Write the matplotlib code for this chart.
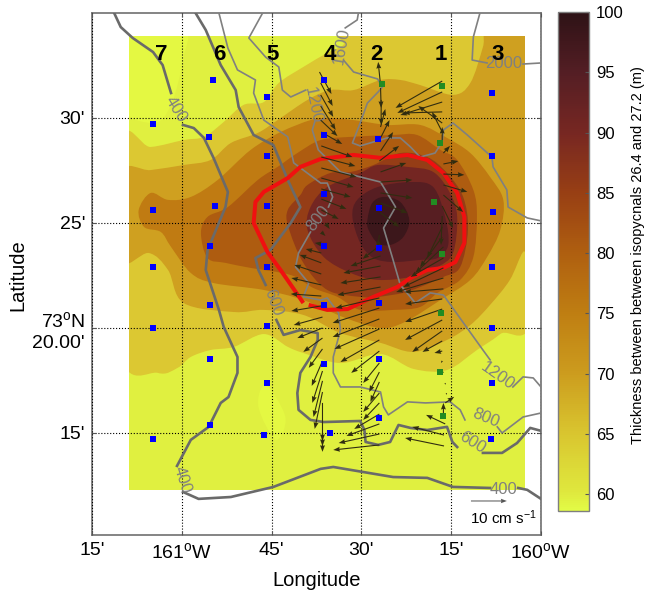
"""
Thickness between isopycnals over the canyon mooring array, with currents and isobaths.

Longitudes are minutes west of 160W, latitudes are minutes north of 73N.
"""

import numpy as np
import matplotlib
matplotlib.use("Agg")
import matplotlib.pyplot as plt
from matplotlib.colors import LinearSegmentedColormap, Normalize
from matplotlib.cm import ScalarMappable
from matplotlib.patches import PathPatch, Rectangle
from matplotlib.path import Path

plt.rcParams["font.family"] = ["Liberation Sans", "DejaVu Sans"]
plt.rcParams["mathtext.fontset"] = "custom"
plt.rcParams["mathtext.rm"] = "Liberation Sans"
plt.rcParams["mathtext.default"] = "rm"

# Colour scale
cbar_values = [58.6, 60, 65, 70, 75, 80, 85, 90, 95, 100]
cbar_colors = ["#e2fb46", "#dfe93e", "#d9c52f", "#cc9c1e", "#bf7e12", "#af5f10",
               "#983f14", "#772722", "#541e24", "#2e1216"]

# Extent of the mapped field
field_lon = [68.9, 2.7]
field_lat = [12.3, 33.9]
field_color = "#e0f040"

# Thickness bands, outermost first
lightest_a_lon = [70.2, 64.8, 61.8, 59.7, 59.8, 70.2]
lightest_a_lat = [30.62, 29.76, 30.62, 32.9, 34.19, 34.19]
lightest_b_lon = [46.0, 42.7, 44.3, 47.2]
lightest_b_lat = [17.29, 15.76, 14.67, 16.24]
band_65_lon = [70.2, 65.2, 59.7, 56.3, 53.2, 49.7, 46.3, 43.8, 39.7, 35.7, 33, 31.3, 1, 1, 6.8, 10.7, 15.7,
               21.3, 26.8, 33.5, 39.7, 42.3, 46.3, 51.3, 55.2, 58.5, 60.7, 64, 70.2]
band_65_lat = [28.71, 28.62, 28.95, 29.1, 29.76, 30.62, 30.76, 31.67, 32.43, 33.1, 33.48, 34.19, 34.19, 21.1,
               19.71, 18.95, 18, 18.05, 18.76, 18.33, 18.81, 19.1, 19.71, 19.1, 18.95, 18.62, 18.1, 17.86, 18.86]
band_70_lon = [70.2, 65.2, 59.7, 55.2, 51.8, 47.3, 44, 39, 35.2, 31.3, 26.8, 23.5, 20.2, 14.7, 11.8, 9.7, 8.8,
               1, 1, 3, 5.2, 8.5, 11.8, 15.7, 21.3, 26.8, 33.5, 39.7, 46.3, 51.3, 59.7, 62.3, 65.5, 70.2]
band_70_lat = [27.38, 27.52, 27.76, 28, 28.81, 29.29, 29.9, 30.86, 31.33, 31.33, 31.81, 31.81, 31.57, 31.1,
               31.67, 33.38, 34.43, 34.43, 23.95, 23.62, 22.29, 21.1, 20.14, 19.43, 18.86, 19.29, 19.76, 20.62,
               20.86, 20.76, 21.19, 22.76, 23.57, 23.24]
band_75_lon = [65.2, 62.3, 58.5, 54, 48.5, 43.5, 38.5, 35.7, 31.3, 25.7, 20.2, 15.7, 11.8, 8.5, 6.3, 6.8, 9,
               11.8, 16.8, 22.7, 26.8, 32.7, 39.7, 46.3, 54.7, 58.5, 61.8, 63.5, 66.3, 67.2]
band_75_lat = [26.43, 26.1, 26.24, 27.05, 28.48, 29.33, 29.9, 30, 29.9, 29.67, 29.67, 29.05, 28.33, 27.19, 26.1,
               24.67, 23.38, 22.29, 21.33, 20.29, 20, 20.48, 21.33, 21.81, 22.14, 22.62, 23.86, 24.57, 24.81, 25.62]
band_80_lon = [56.8, 55.7, 52.3, 47.3, 44, 40.7, 36.8, 31.8, 24.7, 20.7, 16.8, 14, 11.3, 10.7, 11.3, 13.5, 17.3,
               20.2, 24.7, 30.2, 34, 38, 41.8, 48.5, 52.7, 55.7]
band_80_lat = [24.52, 25.29, 25.76, 27.05, 27.67, 28.33, 28.95, 29.1, 29.19, 29.19, 28.48, 28, 26.57, 25.29,
               23.38, 22.29, 21.67, 21, 20.86, 20.86, 21.48, 21.9, 22.52, 22.86, 23.1, 23.33]
band_85_lon = [42.3, 40.2, 39, 35.2, 31.8, 28, 23.5, 19, 15.7, 13, 12.2, 13.5, 16.3, 20.2, 23, 27.3, 30.2, 35.7,
               39.7, 42.2]
band_85_lat = [25.62, 26.33, 26.81, 27.38, 27.43, 27.76, 28.33, 28.14, 27.38, 26.24, 24.67, 22.9, 22.43, 21.95,
               21.67, 21.48, 21.48, 21.81, 23.1, 24.81]
band_90_lon = [30.2, 27.3, 22.3, 18, 15.2, 14, 14.7, 17.3, 21.8, 27.3, 31.8, 36.3, 39, 38.5, 35.7]
band_90_lat = [27.38, 27.76, 27.67, 27.43, 26.43, 25.29, 23.57, 22.9, 22.43, 22.29, 22.62, 23.38, 24.67, 25.76,
               26.71]
band_95_lon = [31.5, 30.7, 27.3, 21.8, 18, 16, 15.5, 17.3, 20.2, 24.7, 28, 30.2]
band_95_lat = [25.29, 26.1, 26.71, 26.95, 26.71, 25.29, 23.95, 23.33, 23.24, 23.14, 23.33, 24.05]
core_lon = [29, 28.2, 26.3, 23.5, 22, 23, 25.2, 27.3, 28.8]
core_lat = [25.14, 25.95, 26.24, 26, 25.14, 24.33, 23.95, 24.05, 24.67]
spot_lon = [20.5, 19.7, 18.8, 19.7]
spot_lat = [25.52, 25.67, 25.52, 25.33]

# Isobaths, broken where their labels sit
iso_400_a_lon = [71.3, 70.2, 68.2, 64.8, 63.2, 61.8]
iso_400_a_lat = [35, 34.33, 33.81, 33.14, 32.52, 31.19]
iso_400_b_lon = [59.8, 58, 56.3, 54.7, 52.3, 52.7, 55.7, 56, 53.8, 53, 50.7, 50.7, 52.2, 53.5, 55.5, 58.5, 60.8]
iso_400_b_lat = [29.67, 29.52, 29.05, 28.1, 26.48, 25.76, 23.71, 22.76, 20.86, 20.05, 18.62, 17.86, 16.71, 16.43,
                 15.29, 14.67, 13.43]
iso_400_c_lon = [59.8, 57.2, 51.8, 44.7, 36.8, 34.7, 24.7, 19, 14.7, 8.5]
iso_400_c_lat = [12.19, 11.86, 11.95, 12.43, 13.29, 13.38, 12.9, 12.86, 12.43, 12.38]
iso_400_d_lon = [3.8, 2.3, 0]
iso_400_d_lat = [12.38, 12.29, 11.86]
iso_600_a_lon = [57.7, 56, 53.5, 51, 50.5, 48, 44.7, 42.3, 40.2, 41.8, 45.2, 47.7, 47.2, 46]
iso_600_a_lat = [35, 34.19, 32.52, 31.33, 30.52, 29.19, 28.71, 27.05, 25.76, 25, 23.71, 23.33, 22.76, 22.05]
iso_600_b_lon = [44.2, 43, 40.2, 37.3, 37.3, 38.5, 40.2, 40.7, 40.5, 38.5, 36.3, 30.2, 29.5, 29.3, 27.2, 25.2,
                 23.8, 21.8, 19, 15.7, 14.8, 14]
iso_600_b_lat = [20.38, 19.67, 19.9, 19.76, 19.43, 18.62, 17.86, 16.9, 16.1, 15.62, 15.52, 15.57, 15.14, 14.57,
                 14.43, 14.57, 15.38, 15.24, 15.14, 15.29, 14.57, 14.33]
iso_600_c_lon = [9.7, 6.5, 4, 1.8, 0]
iso_600_c_lat = [14.05, 14.05, 14.52, 15.24, 15.1]
iso_800_a_lon = [53.8, 52.3, 50.7, 47.7, 48, 46.3, 42.3, 41.3, 36.8, 35.7, 34.8, 35.5]
iso_800_a_lat = [35, 33.33, 32.29, 31.81, 31.19, 29.9, 29.1, 27.86, 26.9, 26.9, 26.24, 25.76]
iso_800_b_lon = [38.5, 40.5, 41, 38.8, 39.7, 36.8, 35.7, 33.8, 33.5, 34.7, 34.7, 33.5, 30.2, 26.8, 26.3, 25.5,
                 22.3, 19.3, 15.2, 13.5, 12.7]
iso_800_b_lat = [24.57, 23.57, 22.9, 22.14, 21.48, 21.33, 21.43, 20.71, 19.9, 18.62, 17.86, 17.19, 17.19, 16.95,
                 16.24, 15.86, 16.48, 16.43, 16.48, 16.1, 15.62]
iso_800_c_lon = [7.3, 6.5, 3, 0]
iso_800_c_lat = [15.29, 15, 15.76, 15.95]
iso_1200_a_lon = [46.5, 48.8, 46, 43.8, 43.2, 41.8, 39.3]
iso_1200_a_lat = [35, 33.81, 32.9, 32.43, 31.33, 31, 31.33]
iso_1200_b_lon = [37.7, 38.2, 37.2, 33.5, 26.8, 24.3, 26.3, 24.8, 23.5, 21, 18.5, 16.3, 9.7, 8.5]
iso_1200_b_lat = [29.9, 29.43, 28.48, 27.43, 26.95, 25.76, 24.76, 23.33, 22.05, 21.19, 21.67, 21.57, 18.95, 18.48]
iso_1200_c_lon = [4.7, 3, 1.3, 0]
iso_1200_c_lat = [17.19, 17.67, 17.62, 17.19]
iso_1600_a_lon = [30.5, 30.7, 32.7]
iso_1600_a_lat = [35, 34.67, 34.29]
iso_1600_b_lon = [33, 31.3, 27.3, 26.5, 27.2, 29, 30.2, 31.5, 30.2, 25.7, 23.5, 21.8, 20.2, 17.7, 16.5, 16.3,
                  14.7, 12.3, 8.2, 8, 5.7, 5.5, 2.3, 0]
iso_1600_b_lat = [32.76, 32.19, 31.86, 31.48, 31.24, 30.71, 29.76, 28.81, 28.67, 29.05, 29.05, 28.62, 28.14, 28.33,
                  28.86, 29.43, 29.76, 29.19, 28.14, 27.67, 26.57, 25.76, 25.24, 25.1]
iso_2000_a_lon = [10.2, 11.3, 11.5, 9]
iso_2000_a_lat = [35, 33.86, 32.76, 32.62]
iso_2000_b_lon = [3, 0]
iso_2000_b_lat = [32.57, 32.62]

iso_label_text = ["400", "400", "400", "600", "600", "800", "800", "1200", "1200", "1600", "2000"]
iso_label_lon = [61.0, 60.0, 6.3, 44.8, 11.5, 37.2, 9.3, 38.0, 7.2, 33.3, 6.2]
iso_label_lat = [30.4, 12.75, 12.3, 21.2, 14.55, 25.2, 15.7, 30.6, 17.7, 33.45, 32.6]
iso_label_angle = [-58, -72, 0, -70, -32, 52, -22, -78, -35, 80, 0]

# The 90 m outline, open where its ends almost meet
outline_lon = [38.8, 35.7, 32.3, 28, 24, 21.8, 19, 16.3, 14.3, 12.8, 12.8, 14, 16.3, 19, 22.3, 26.8, 31.3, 36.8,
               40.2, 42.3, 46.3, 47.7, 48, 45.7, 43.5, 39.7]
outline_lat = [21.1, 20.86, 20.9, 21.48, 21.95, 22.38, 22.76, 22.86, 23.14, 24.05, 25.29, 26.43, 27.38, 28, 28.24,
               28.1, 28.24, 28.05, 27.67, 27.14, 26.48, 26, 25, 23.62, 22.76, 21.19]

# Stations
blue_lon = [64.8, 64.8, 64.8, 64.8, 64.8, 54.8, 55.5, 54.5, 55.3, 55.3, 55.3, 55.3, 45.8, 45.8, 45.8, 45.8, 45.8,
            45.8, 46.2, 36.3, 36.3, 36.3, 36.3, 36.3, 36.3, 35.2, 27.3, 27, 27, 27, 27, 27, 8.2, 8.2, 8, 8.2, 8.2,
            8.2, 8.3]
blue_lat = [29.7, 25.6, 22.9, 20, 14.7, 31.8, 29.1, 25.8, 23.9, 21.1, 18.5, 15.4, 31, 28.2, 25.8, 22.9, 20.1, 17.4,
            14.9, 31.8, 29.2, 26.4, 23.9, 21.1, 18.3, 15, 29, 25.7, 23.8, 21.2, 18.5, 15.7, 31.2, 28.2, 25.5, 22.9,
            20, 17.4, 14.7]
green_lon = [26.5, 16.5, 16.8, 17.8, 16.5, 16.7, 16.8, 16.3]
green_lat = [31.6, 31.5, 28.8, 26, 23.5, 20.7, 17.9, 15.8]

line_names = ["7", "6", "5", "4", "2", "1", "3"]
line_lon = [63.5, 53.8, 44.8, 35.3, 27.5, 16.8, 7.2]
line_lat = 33.0

# Current vectors, tail and tip, one block per mooring line
line4_tail_lon = [37.0, 36.8, 36.8, 36.8, 36.8, 36.7, 36.7, 36.7, 36.7, 36.7, 36.7, 36.7, 36.7, 36.0, 36.7, 36.7,
                  36.7, 36.7, 36.7, 36.7, 36.7, 36.7, 36.5, 36.5, 36.5, 36.5, 36.5, 36.5, 36.5, 36.5, 36.5, 36.5, 36.5]
line4_tail_lat = [32.19, 31.67, 31.10, 30.57, 29.90, 29.33, 28.67, 28.14, 27.62, 27.14, 26.62, 26.14, 25.62, 25.0,
                  24.57, 24.0, 23.57, 23.1, 22.57, 22.05, 21.52, 21.05, 20.52, 20.0, 19.52, 19.0, 18.43, 17.95,
                  17.48, 16.95, 16.43, 15.0, 14.76]
line4_tip_lon = [35.0, 34.8, 34.7, 34.3, 34.0, 33.2, 31.5, 31.0, 30.8, 31.3, 31.8, 32.5, 33.8, 35.3, 36.0, 37.8,
                 39.3, 40.3, 41.2, 41.7, 41.8, 41.7, 41.3, 40.7, 39.7, 38.8, 38.3, 38.2, 38.0, 37.8, 36.5, 36.5, 36.5]
line4_tip_lat = [31.14, 30.57, 30.05, 29.43, 29.14, 28.76, 28.14, 27.71, 27.19, 26.71, 26.24, 25.67, 25.19, 24.71,
                 24.38, 24.05, 23.76, 23.48, 23.0, 22.38, 21.62, 20.81, 20.14, 19.52, 18.86, 18.1, 17.24, 16.43,
                 15.76, 15.19, 14.1, 14.62, 14.38]
line2_tail_lon = [26.8, 26.8, 26.7, 26.8, 26.8, 26.8, 27, 26.8, 26.8, 26.8, 26.8, 26.8, 27, 26.8, 26.8, 26.8, 26.8,
                  26.8, 27, 27, 27, 27, 27, 27, 27, 27, 27, 27, 27, 27, 27, 27, 27]
line2_tail_lat = [31.57, 31.43, 30.86, 29.57, 29.05, 28.43, 27.95, 27.43, 26.95, 26.43, 25.95, 25.48, 24.43, 23.95,
                  23.43, 22.95, 22.43, 21.95, 21.43, 20.95, 20.43, 19.95, 19.43, 18.9, 18.33, 17.9, 17.43, 16.9,
                  16.43, 15.9, 15.43, 14.95, 14.43]
line2_tip_lon = [27.2, 26.7, 26.7, 26, 25.3, 24.7, 23.7, 22.5, 21.5, 21.5, 22.3, 23.7, 27.3, 29.8, 31.8, 33, 33.5,
                 34, 34.3, 34.8, 34.8, 34.5, 33.5, 31.7, 29.7, 28.7, 28.5, 29.7, 29.7, 31.2, 32.5, 33.8, 34.7]
line2_tip_lat = [32.67, 30.48, 29.67, 30.43, 29.9, 29.33, 28.67, 27.86, 27.05, 26.19, 25.48, 24.81, 23.81, 23.29,
                 22.95, 22.62, 22.14, 21.57, 20.95, 20.24, 19.57, 19.0, 18.38, 17.86, 17.38, 16.95, 16.48, 16.0,
                 15.62, 15.19, 14.86, 14.52, 14.19]
line1_tail_lon = [16.5, 16.5, 16.5, 16.5, 16.5, 16.5, 16.5, 16.3, 16.3, 16.3, 16.3, 16.3, 16.5, 16.5, 16.5, 16.5,
                  16.3, 16.3, 16.3, 16.3, 16.3, 16.5, 16.5, 16.5, 16.5, 16.5, 16.5, 16.5, 16.3, 16, 15.8, 16.3, 16,
                  16, 16.2, 16.2]
line1_tail_lat = [31.76, 31.24, 30.76, 30.29, 29.76, 29.33, 28.86, 28.33, 27.81, 27.33, 26.81, 26.33, 25.81, 25.33,
                  24.81, 24.33, 23.86, 23.33, 22.86, 22.38, 21.86, 21.38, 20.9, 20.38, 19.86, 19.38, 18.9, 18.43,
                  17.9, 17.38, 16.9, 15.95, 16.43, 15.43, 14.9, 14.38]
line1_tip_lon = [24.3, 24, 23.5, 23, 20.5, 18.2, 16.5, 15.2, 13.8, 12.8, 12.3, 13, 14.7, 16.7, 19, 20.2, 21, 21.8,
                 23, 24.2, 22.8, 22.7, 22.7, 22.7, 21.5, 19.8, 17.8, 16.7, 16.7, 16, 15.8, 16.3, 14.5, 19.2, 21.5, 22.7]
line1_tip_lat = [30.48, 30.24, 30.14, 30.24, 30.57, 30.29, 29.57, 28.67, 27.95, 27.29, 26.48, 25.52, 24.76, 23.95,
                 23.33, 22.9, 22.62, 22.43, 21.95, 21.71, 21.71, 21.14, 20.29, 19.43, 18.86, 18.86, 18.81, 18.33,
                 17.86, 17.29, 16.81, 16.43, 16.72, 15.86, 15.29, 14.76]

# Reference vector
key_lon = [11.7, 5.7]
key_lat = 11.76

x_ticks = [75, 60, 45, 30, 15, 0]
x_labels = ["15'", "161$^{o}$W", "45'", "30'", "15'", "160$^{o}$W"]
y_ticks = [30, 25, 20, 15]
y_labels = ["30'", "25'", "73$^{o}$N\n20.00'", "15'"]
cbar_ticks = [60, 65, 70, 75, 80, 85, 90, 95, 100]


def smooth_band(lon, lat):
    """Closed Catmull-Rom outline through the given boundary points."""
    pts = np.column_stack([lon, lat]).astype(float)
    n = len(pts)
    verts = [pts[0]]
    codes = [Path.MOVETO]
    for i in range(n):
        p0, p1, p2, p3 = pts[i - 1], pts[i], pts[(i + 1) % n], pts[(i + 2) % n]
        verts += [p1 + (p2 - p0) / 6, p2 - (p3 - p1) / 6, p2]
        codes += [Path.CURVE4] * 3
    return Path(verts, codes)


fig = plt.figure(figsize=(6.48, 5.94), dpi=100)
ax = fig.add_axes([92 / 648, 59 / 594, 449 / 648, 522 / 594])
ax.set_xlim(75, 0)
ax.set_ylim(10.14, 35)

# Field background and bands
field = Rectangle((field_lon[0], field_lat[0]), field_lon[1] - field_lon[0], field_lat[1] - field_lat[0],
                  facecolor=field_color, edgecolor="none", zorder=1)
ax.add_patch(field)

bands = [
    (lightest_a_lon, lightest_a_lat, "#e4f842"),
    (lightest_b_lon, lightest_b_lat, "#e4f842"),
    (band_65_lon, band_65_lat, "#dcc832"),
    (band_70_lon, band_70_lat, "#cfa020"),
    (band_75_lon, band_75_lat, "#c07b12"),
    (band_80_lon, band_80_lat, "#ae5c10"),
    (band_85_lon, band_85_lat, "#953d16"),
    (band_90_lon, band_90_lat, "#742622"),
    (band_95_lon, band_95_lat, "#571e22"),
    (core_lon, core_lat, "#3c171b"),
    (spot_lon, spot_lat, "#571e22"),
]
for i, (lon, lat, color) in enumerate(bands):
    patch = PathPatch(smooth_band(lon, lat), facecolor=color, edgecolor="none", zorder=1.1 + i * 0.01)
    ax.add_patch(patch)
    patch.set_clip_path(field)

ax.grid(True, color="black", linestyle=":", linewidth=0.8, zorder=2)
ax.set_axisbelow(False)

# Isobaths
thick = [(iso_400_a_lon, iso_400_a_lat), (iso_400_b_lon, iso_400_b_lat), (iso_400_c_lon, iso_400_c_lat),
         (iso_400_d_lon, iso_400_d_lat), (iso_600_a_lon, iso_600_a_lat), (iso_600_b_lon, iso_600_b_lat),
         (iso_600_c_lon, iso_600_c_lat)]
thin = [(iso_800_a_lon, iso_800_a_lat), (iso_800_b_lon, iso_800_b_lat), (iso_800_c_lon, iso_800_c_lat),
        (iso_1200_a_lon, iso_1200_a_lat), (iso_1200_b_lon, iso_1200_b_lat), (iso_1200_c_lon, iso_1200_c_lat),
        (iso_1600_a_lon, iso_1600_a_lat), (iso_1600_b_lon, iso_1600_b_lat),
        (iso_2000_a_lon, iso_2000_a_lat), (iso_2000_b_lon, iso_2000_b_lat)]
for lon, lat in thick:
    ax.plot(lon, lat, color="#6a6a6a", linewidth=1.9, zorder=3)
for lon, lat in thin:
    ax.plot(lon, lat, color="#808080", linewidth=1.2, zorder=3)
for text, lon, lat, angle in zip(iso_label_text, iso_label_lon, iso_label_lat, iso_label_angle):
    ax.text(lon, lat, text, color="#808080", fontsize=12, rotation=angle, rotation_mode="anchor",
            ha="center", va="center", zorder=3)

ax.plot(outline_lon, outline_lat, color="#f01010", linewidth=2.9, solid_capstyle="butt", zorder=4)

# Currents
tail_lon = np.array(line4_tail_lon + line2_tail_lon + line1_tail_lon)
tail_lat = np.array(line4_tail_lat + line2_tail_lat + line1_tail_lat)
tip_lon = np.array(line4_tip_lon + line2_tip_lon + line1_tip_lon)
tip_lat = np.array(line4_tip_lat + line2_tip_lat + line1_tip_lat)
ax.quiver(tail_lon, tail_lat, tip_lon - tail_lon, tip_lat - tail_lat, angles="xy", scale_units="xy", scale=1,
          units="dots", width=1.1, headwidth=4.5, headlength=6, headaxislength=5.5, minlength=0.5,
          color="#302c10", zorder=5)

ax.scatter(blue_lon, blue_lat, marker="s", s=14, color="#0000ff", linewidths=0, zorder=6)
ax.scatter(green_lon, green_lat, marker="s", s=14, color="#228b22", linewidths=0, zorder=6)

for name, lon in zip(line_names, line_lon):
    ax.text(lon, line_lat, name, fontsize=16, fontweight="bold", ha="center", va="center", zorder=7)

# Reference vector
ax.quiver([key_lon[0]], [key_lat], [key_lon[1] - key_lon[0]], [0], angles="xy", scale_units="xy", scale=1,
          units="dots", width=1.0, headwidth=4.5, headlength=6, headaxislength=5.5, color="#555555", zorder=5)
ax.text(6.2, 10.95, "10 cm s$^{-1}$", fontsize=11, ha="center", va="center", zorder=7)

ax.set_xticks(x_ticks)
ax.set_xticklabels(x_labels)
ax.set_yticks(y_ticks)
ax.set_yticklabels(y_labels, multialignment="right", linespacing=1.25)
ax.tick_params(direction="in", length=3, width=0.8, top=True, right=True, color="#555555", labelsize=14, pad=5)
for spine in ax.spines.values():
    spine.set_color("#707070")
    spine.set_linewidth(1.2)
fig.text(317 / 648, 1 - 580 / 594, "Longitude", fontsize=14.5, ha="center", va="center")
fig.text(18 / 648, 1 - 275 / 594, "Latitude", fontsize=14.5, rotation=90, ha="center", va="center")

# Colour bar
cmap = LinearSegmentedColormap.from_list(
    "thickness", [((v - cbar_values[0]) / (cbar_values[-1] - cbar_values[0]), c) for v, c in zip(cbar_values, cbar_colors)], N=256)
cax = fig.add_axes([558 / 648, 83 / 594, 31 / 648, 499 / 594])
sm = ScalarMappable(norm=Normalize(cbar_values[0], cbar_values[-1]), cmap=cmap)
cbar = fig.colorbar(sm, cax=cax, ticks=cbar_ticks)
cbar.ax.tick_params(direction="in", length=3, width=0.8, color="#555555", labelsize=12, pad=5)
cbar.outline.set_edgecolor("#7f7f7f")
cbar.outline.set_linewidth(1.0)
fig.text(638 / 648, 1 - 255.5 / 594, "Thickness between between isopycnals 26.4 and 27.2 (m)",
         rotation=90, fontsize=10.5, ha="center", va="center")

fig.savefig("out.png", dpi=100)
plt.close(fig)
